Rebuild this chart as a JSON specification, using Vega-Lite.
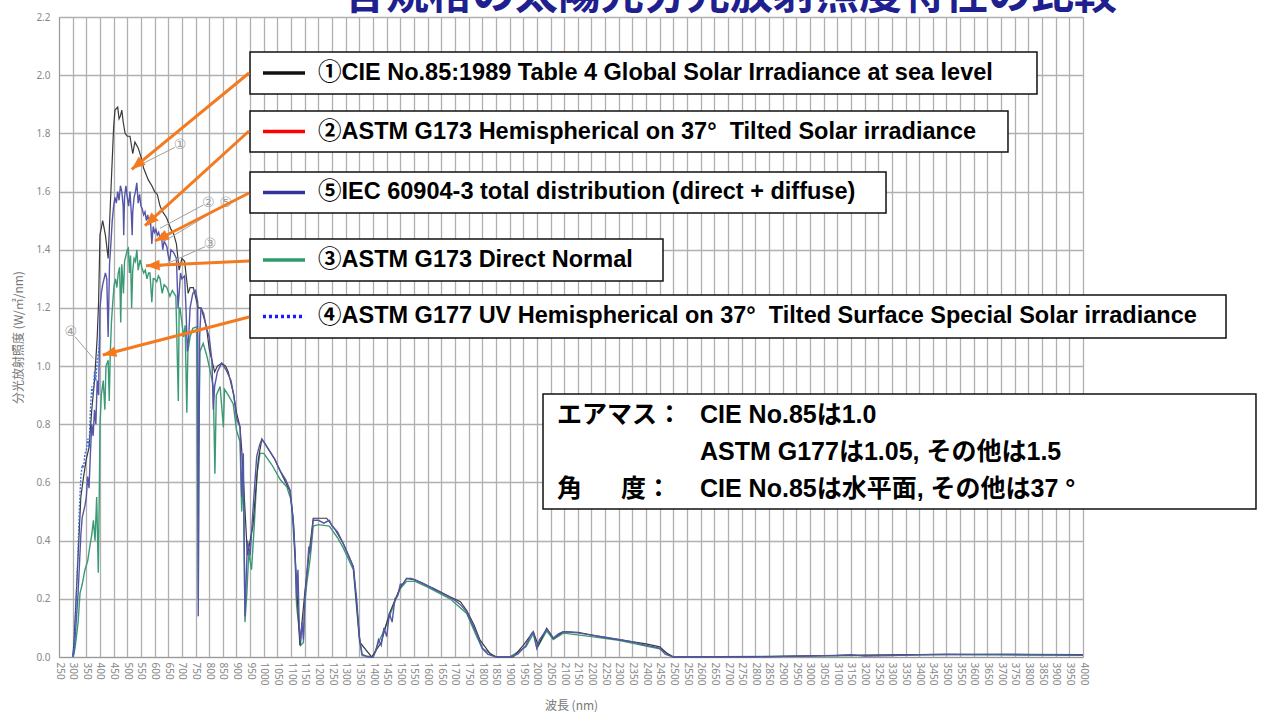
{
  "$schema": "https://vega.github.io/schema/vega-lite/v6.json",
  "width": 1024,
  "height": 640,
  "autosize": {"type": "none"},
  "padding": {"left": 59, "top": 17, "right": 181, "bottom": 67},
  "background": "white",
  "config": {
    "view": {"stroke": null},
    "axis": {
      "gridColor": "#b0b0b0",
      "gridWidth": 1.3,
      "domainColor": "#999999",
      "ticks": false,
      "labelColor": "#888888",
      "labelFont": "Noto Sans",
      "labelFontSize": 10,
      "titleColor": "#777777",
      "titleFont": "Noto Sans CJK JP",
      "titleFontWeight": "normal",
      "titleFontSize": 12
    }
  },
  "encoding": {
    "x": {
      "field": "x", "type": "quantitative", "title": "波長 (nm)",
      "scale": {"domain": [250, 4000], "nice": false, "zero": false},
      "axis": {
        "values": [250,300,350,400,450,500,550,600,650,700,750,800,850,900,950,1000,1050,1100,1150,1200,1250,1300,1350,1400,1450,1500,1550,1600,1650,1700,1750,1800,1850,1900,1950,2000,2050,2100,2150,2200,2250,2300,2350,2400,2450,2500,2550,2600,2650,2700,2750,2800,2850,2900,2950,3000,3050,3100,3150,3200,3250,3300,3350,3400,3450,3500,3550,3600,3650,3700,3750,3800,3850,3900,3950,4000],
        "format": "d",
        "labelAngle": 90,
        "labelAlign": "left",
        "labelBaseline": "middle",
        "labelPadding": 5,
        "labelOverlap": false,
        "labelBound": false,
        "titlePadding": 16
      }
    },
    "y": {
      "field": "y", "type": "quantitative", "title": "分光放射照度 (W/㎡/nm)",
      "scale": {"domain": [0, 2.2], "nice": false},
      "axis": {
        "values": [0, 0.2, 0.4, 0.6, 0.8, 1.0, 1.2, 1.4, 1.6, 1.8, 2.0, 2.2],
        "format": ".1f",
        "labelPadding": 9,
        "labelOverlap": false,
        "titlePadding": 10
      }
    }
  },
  "datasets": {
    "spec": [
      {"s": "cie", "x": 300, "y": 0}, {"s": "cie", "x": 305, "y": 0.05}, {"s": "cie", "x": 310, "y": 0.15}, {"s": "cie", "x": 320, "y": 0.35}, {"s": "cie", "x": 330, "y": 0.55}, {"s": "cie", "x": 340, "y": 0.62}, {"s": "cie", "x": 350, "y": 0.68}, {"s": "cie", "x": 360, "y": 0.72}, {"s": "cie", "x": 370, "y": 0.85}, {"s": "cie", "x": 380, "y": 0.95}, {"s": "cie", "x": 390, "y": 1.1}, {"s": "cie", "x": 395, "y": 1.22}, {"s": "cie", "x": 400, "y": 1.45}, {"s": "cie", "x": 410, "y": 1.5}, {"s": "cie", "x": 420, "y": 1.45}, {"s": "cie", "x": 430, "y": 1.37}, {"s": "cie", "x": 440, "y": 1.6}, {"s": "cie", "x": 450, "y": 1.82}, {"s": "cie", "x": 455, "y": 1.88}, {"s": "cie", "x": 465, "y": 1.89}, {"s": "cie", "x": 470, "y": 1.85}, {"s": "cie", "x": 475, "y": 1.86}, {"s": "cie", "x": 480, "y": 1.88}, {"s": "cie", "x": 485, "y": 1.84}, {"s": "cie", "x": 492, "y": 1.8}, {"s": "cie", "x": 500, "y": 1.79}, {"s": "cie", "x": 510, "y": 1.79}, {"s": "cie", "x": 520, "y": 1.73}, {"s": "cie", "x": 528, "y": 1.77}, {"s": "cie", "x": 540, "y": 1.75}, {"s": "cie", "x": 550, "y": 1.72}, {"s": "cie", "x": 560, "y": 1.68}, {"s": "cie", "x": 577, "y": 1.64}, {"s": "cie", "x": 590, "y": 1.62}, {"s": "cie", "x": 600, "y": 1.6}, {"s": "cie", "x": 610, "y": 1.59}, {"s": "cie", "x": 620, "y": 1.55}, {"s": "cie", "x": 630, "y": 1.53}, {"s": "cie", "x": 644, "y": 1.51}, {"s": "cie", "x": 660, "y": 1.47}, {"s": "cie", "x": 669, "y": 1.457}, {"s": "cie", "x": 680, "y": 1.42}, {"s": "cie", "x": 690, "y": 1.33}, {"s": "cie", "x": 700, "y": 1.37}, {"s": "cie", "x": 710, "y": 1.36}, {"s": "cie", "x": 723, "y": 1.25}, {"s": "cie", "x": 730, "y": 1.27}, {"s": "cie", "x": 742, "y": 1.27}, {"s": "cie", "x": 760, "y": 1.2}, {"s": "cie", "x": 770, "y": 1.2}, {"s": "cie", "x": 778, "y": 1.175}, {"s": "cie", "x": 790, "y": 1.135}, {"s": "cie", "x": 800, "y": 1.06}, {"s": "cie", "x": 815, "y": 1.0}, {"s": "cie", "x": 820, "y": 0.98}, {"s": "cie", "x": 830, "y": 1.0}, {"s": "cie", "x": 846, "y": 1.01}, {"s": "cie", "x": 860, "y": 1.0}, {"s": "cie", "x": 870, "y": 0.98}, {"s": "cie", "x": 890, "y": 0.9}, {"s": "cie", "x": 900, "y": 0.84}, {"s": "cie", "x": 913, "y": 0.79}, {"s": "cie", "x": 920, "y": 0.7}, {"s": "cie", "x": 940, "y": 0.35}, {"s": "cie", "x": 960, "y": 0.45}, {"s": "cie", "x": 980, "y": 0.68}, {"s": "cie", "x": 993, "y": 0.75}, {"s": "cie", "x": 1040, "y": 0.68}, {"s": "cie", "x": 1070, "y": 0.62}, {"s": "cie", "x": 1096, "y": 0.57}, {"s": "cie", "x": 1108, "y": 0.47}, {"s": "cie", "x": 1120, "y": 0.25}, {"s": "cie", "x": 1132, "y": 0.04}, {"s": "cie", "x": 1150, "y": 0.22}, {"s": "cie", "x": 1165, "y": 0.35}, {"s": "cie", "x": 1181, "y": 0.477}, {"s": "cie", "x": 1230, "y": 0.477}, {"s": "cie", "x": 1260, "y": 0.44}, {"s": "cie", "x": 1291, "y": 0.39}, {"s": "cie", "x": 1328, "y": 0.31}, {"s": "cie", "x": 1352, "y": 0.05}, {"s": "cie", "x": 1395, "y": 0.0}, {"s": "cie", "x": 1430, "y": 0.05}, {"s": "cie", "x": 1460, "y": 0.15}, {"s": "cie", "x": 1500, "y": 0.24}, {"s": "cie", "x": 1523, "y": 0.27}, {"s": "cie", "x": 1554, "y": 0.265}, {"s": "cie", "x": 1600, "y": 0.245}, {"s": "cie", "x": 1621, "y": 0.236}, {"s": "cie", "x": 1682, "y": 0.207}, {"s": "cie", "x": 1720, "y": 0.19}, {"s": "cie", "x": 1743, "y": 0.16}, {"s": "cie", "x": 1770, "y": 0.11}, {"s": "cie", "x": 1792, "y": 0.058}, {"s": "cie", "x": 1830, "y": 0.01}, {"s": "cie", "x": 1853, "y": 0.0}, {"s": "cie", "x": 1914, "y": 0.0}, {"s": "cie", "x": 1950, "y": 0.04}, {"s": "cie", "x": 1987, "y": 0.087}, {"s": "cie", "x": 2005, "y": 0.04}, {"s": "cie", "x": 2036, "y": 0.099}, {"s": "cie", "x": 2060, "y": 0.064}, {"s": "cie", "x": 2097, "y": 0.087}, {"s": "cie", "x": 2150, "y": 0.085}, {"s": "cie", "x": 2231, "y": 0.07}, {"s": "cie", "x": 2300, "y": 0.06}, {"s": "cie", "x": 2400, "y": 0.045}, {"s": "cie", "x": 2450, "y": 0.035}, {"s": "cie", "x": 2480, "y": 0.01}, {"s": "cie", "x": 2500, "y": 0.0}, {"s": "cie", "x": 2900, "y": 0.002}, {"s": "cie", "x": 3100, "y": 0.006}, {"s": "cie", "x": 3400, "y": 0.008}, {"s": "cie", "x": 3700, "y": 0.009}, {"s": "cie", "x": 4000, "y": 0.008},

      {"s": "iec", "x": 300, "y": 0}, {"s": "iec", "x": 305, "y": 0.02}, {"s": "iec", "x": 310, "y": 0.08}, {"s": "iec", "x": 315, "y": 0.15}, {"s": "iec", "x": 320, "y": 0.22}, {"s": "iec", "x": 325, "y": 0.32}, {"s": "iec", "x": 330, "y": 0.42}, {"s": "iec", "x": 335, "y": 0.48}, {"s": "iec", "x": 340, "y": 0.5}, {"s": "iec", "x": 345, "y": 0.52}, {"s": "iec", "x": 350, "y": 0.55}, {"s": "iec", "x": 355, "y": 0.62}, {"s": "iec", "x": 360, "y": 0.58}, {"s": "iec", "x": 365, "y": 0.7}, {"s": "iec", "x": 370, "y": 0.8}, {"s": "iec", "x": 375, "y": 0.76}, {"s": "iec", "x": 380, "y": 0.85}, {"s": "iec", "x": 385, "y": 0.8}, {"s": "iec", "x": 390, "y": 0.95}, {"s": "iec", "x": 395, "y": 0.9}, {"s": "iec", "x": 400, "y": 1.2}, {"s": "iec", "x": 405, "y": 1.25}, {"s": "iec", "x": 410, "y": 1.28}, {"s": "iec", "x": 415, "y": 1.3}, {"s": "iec", "x": 420, "y": 1.32}, {"s": "iec", "x": 425, "y": 1.3}, {"s": "iec", "x": 430, "y": 1.1}, {"s": "iec", "x": 435, "y": 1.35}, {"s": "iec", "x": 440, "y": 1.42}, {"s": "iec", "x": 445, "y": 1.5}, {"s": "iec", "x": 450, "y": 1.55}, {"s": "iec", "x": 455, "y": 1.58}, {"s": "iec", "x": 460, "y": 1.56}, {"s": "iec", "x": 465, "y": 1.6}, {"s": "iec", "x": 470, "y": 1.57}, {"s": "iec", "x": 475, "y": 1.62}, {"s": "iec", "x": 480, "y": 1.6}, {"s": "iec", "x": 485, "y": 1.55}, {"s": "iec", "x": 487, "y": 1.45}, {"s": "iec", "x": 490, "y": 1.58}, {"s": "iec", "x": 495, "y": 1.62}, {"s": "iec", "x": 500, "y": 1.58}, {"s": "iec", "x": 505, "y": 1.55}, {"s": "iec", "x": 510, "y": 1.6}, {"s": "iec", "x": 515, "y": 1.52}, {"s": "iec", "x": 518, "y": 1.45}, {"s": "iec", "x": 520, "y": 1.53}, {"s": "iec", "x": 525, "y": 1.58}, {"s": "iec", "x": 530, "y": 1.6}, {"s": "iec", "x": 535, "y": 1.63}, {"s": "iec", "x": 540, "y": 1.56}, {"s": "iec", "x": 545, "y": 1.59}, {"s": "iec", "x": 550, "y": 1.55}, {"s": "iec", "x": 555, "y": 1.54}, {"s": "iec", "x": 560, "y": 1.52}, {"s": "iec", "x": 565, "y": 1.53}, {"s": "iec", "x": 570, "y": 1.5}, {"s": "iec", "x": 575, "y": 1.52}, {"s": "iec", "x": 580, "y": 1.49}, {"s": "iec", "x": 585, "y": 1.5}, {"s": "iec", "x": 590, "y": 1.42}, {"s": "iec", "x": 595, "y": 1.48}, {"s": "iec", "x": 600, "y": 1.46}, {"s": "iec", "x": 605, "y": 1.47}, {"s": "iec", "x": 610, "y": 1.45}, {"s": "iec", "x": 615, "y": 1.46}, {"s": "iec", "x": 620, "y": 1.44}, {"s": "iec", "x": 625, "y": 1.45}, {"s": "iec", "x": 630, "y": 1.4}, {"s": "iec", "x": 635, "y": 1.43}, {"s": "iec", "x": 640, "y": 1.42}, {"s": "iec", "x": 645, "y": 1.41}, {"s": "iec", "x": 650, "y": 1.38}, {"s": "iec", "x": 655, "y": 1.36}, {"s": "iec", "x": 660, "y": 1.4}, {"s": "iec", "x": 670, "y": 1.39}, {"s": "iec", "x": 680, "y": 1.37}, {"s": "iec", "x": 686, "y": 1.2}, {"s": "iec", "x": 690, "y": 1.25}, {"s": "iec", "x": 695, "y": 1.32}, {"s": "iec", "x": 700, "y": 1.3}, {"s": "iec", "x": 710, "y": 1.31}, {"s": "iec", "x": 715, "y": 1.2}, {"s": "iec", "x": 720, "y": 1.05}, {"s": "iec", "x": 725, "y": 1.1}, {"s": "iec", "x": 730, "y": 1.2}, {"s": "iec", "x": 740, "y": 1.25}, {"s": "iec", "x": 750, "y": 1.26}, {"s": "iec", "x": 758, "y": 1.22}, {"s": "iec", "x": 760, "y": 0.14}, {"s": "iec", "x": 762, "y": 0.6}, {"s": "iec", "x": 765, "y": 1.1}, {"s": "iec", "x": 770, "y": 1.2}, {"s": "iec", "x": 780, "y": 1.18}, {"s": "iec", "x": 790, "y": 1.13}, {"s": "iec", "x": 800, "y": 1.1}, {"s": "iec", "x": 810, "y": 1.02}, {"s": "iec", "x": 815, "y": 0.85}, {"s": "iec", "x": 820, "y": 0.93}, {"s": "iec", "x": 830, "y": 0.98}, {"s": "iec", "x": 840, "y": 1.0}, {"s": "iec", "x": 846, "y": 1.01}, {"s": "iec", "x": 860, "y": 0.99}, {"s": "iec", "x": 870, "y": 0.97}, {"s": "iec", "x": 880, "y": 0.95}, {"s": "iec", "x": 890, "y": 0.9}, {"s": "iec", "x": 900, "y": 0.82}, {"s": "iec", "x": 913, "y": 0.79}, {"s": "iec", "x": 919, "y": 0.55}, {"s": "iec", "x": 925, "y": 0.7}, {"s": "iec", "x": 931, "y": 0.14}, {"s": "iec", "x": 935, "y": 0.25}, {"s": "iec", "x": 940, "y": 0.4}, {"s": "iec", "x": 950, "y": 0.35}, {"s": "iec", "x": 960, "y": 0.5}, {"s": "iec", "x": 974, "y": 0.69}, {"s": "iec", "x": 985, "y": 0.73}, {"s": "iec", "x": 992, "y": 0.746}, {"s": "iec", "x": 1000, "y": 0.74}, {"s": "iec", "x": 1020, "y": 0.71}, {"s": "iec", "x": 1040, "y": 0.68}, {"s": "iec", "x": 1060, "y": 0.64}, {"s": "iec", "x": 1080, "y": 0.61}, {"s": "iec", "x": 1096, "y": 0.574}, {"s": "iec", "x": 1108, "y": 0.47}, {"s": "iec", "x": 1115, "y": 0.35}, {"s": "iec", "x": 1120, "y": 0.2}, {"s": "iec", "x": 1125, "y": 0.3}, {"s": "iec", "x": 1130, "y": 0.1}, {"s": "iec", "x": 1135, "y": 0.05}, {"s": "iec", "x": 1140, "y": 0.12}, {"s": "iec", "x": 1145, "y": 0.06}, {"s": "iec", "x": 1150, "y": 0.2}, {"s": "iec", "x": 1157, "y": 0.276}, {"s": "iec", "x": 1165, "y": 0.38}, {"s": "iec", "x": 1170, "y": 0.36}, {"s": "iec", "x": 1181, "y": 0.47}, {"s": "iec", "x": 1200, "y": 0.47}, {"s": "iec", "x": 1220, "y": 0.46}, {"s": "iec", "x": 1240, "y": 0.47}, {"s": "iec", "x": 1250, "y": 0.45}, {"s": "iec", "x": 1270, "y": 0.43}, {"s": "iec", "x": 1291, "y": 0.39}, {"s": "iec", "x": 1310, "y": 0.35}, {"s": "iec", "x": 1328, "y": 0.31}, {"s": "iec", "x": 1340, "y": 0.2}, {"s": "iec", "x": 1350, "y": 0.07}, {"s": "iec", "x": 1360, "y": 0.01}, {"s": "iec", "x": 1380, "y": 0.0}, {"s": "iec", "x": 1400, "y": 0.0}, {"s": "iec", "x": 1410, "y": 0.02}, {"s": "iec", "x": 1420, "y": 0.06}, {"s": "iec", "x": 1430, "y": 0.04}, {"s": "iec", "x": 1440, "y": 0.1}, {"s": "iec", "x": 1450, "y": 0.07}, {"s": "iec", "x": 1460, "y": 0.15}, {"s": "iec", "x": 1470, "y": 0.12}, {"s": "iec", "x": 1480, "y": 0.2}, {"s": "iec", "x": 1490, "y": 0.21}, {"s": "iec", "x": 1500, "y": 0.25}, {"s": "iec", "x": 1510, "y": 0.25}, {"s": "iec", "x": 1523, "y": 0.27}, {"s": "iec", "x": 1540, "y": 0.27}, {"s": "iec", "x": 1554, "y": 0.265}, {"s": "iec", "x": 1580, "y": 0.255}, {"s": "iec", "x": 1600, "y": 0.245}, {"s": "iec", "x": 1621, "y": 0.234}, {"s": "iec", "x": 1650, "y": 0.22}, {"s": "iec", "x": 1682, "y": 0.205}, {"s": "iec", "x": 1700, "y": 0.195}, {"s": "iec", "x": 1720, "y": 0.18}, {"s": "iec", "x": 1743, "y": 0.155}, {"s": "iec", "x": 1760, "y": 0.12}, {"s": "iec", "x": 1780, "y": 0.08}, {"s": "iec", "x": 1800, "y": 0.03}, {"s": "iec", "x": 1820, "y": 0.01}, {"s": "iec", "x": 1850, "y": 0.0}, {"s": "iec", "x": 1900, "y": 0.0}, {"s": "iec", "x": 1930, "y": 0.01}, {"s": "iec", "x": 1960, "y": 0.04}, {"s": "iec", "x": 1980, "y": 0.08}, {"s": "iec", "x": 1987, "y": 0.087}, {"s": "iec", "x": 2000, "y": 0.03}, {"s": "iec", "x": 2010, "y": 0.06}, {"s": "iec", "x": 2036, "y": 0.095}, {"s": "iec", "x": 2050, "y": 0.08}, {"s": "iec", "x": 2060, "y": 0.065}, {"s": "iec", "x": 2080, "y": 0.08}, {"s": "iec", "x": 2097, "y": 0.087}, {"s": "iec", "x": 2150, "y": 0.083}, {"s": "iec", "x": 2200, "y": 0.075}, {"s": "iec", "x": 2250, "y": 0.068}, {"s": "iec", "x": 2300, "y": 0.06}, {"s": "iec", "x": 2350, "y": 0.052}, {"s": "iec", "x": 2400, "y": 0.04}, {"s": "iec", "x": 2430, "y": 0.035}, {"s": "iec", "x": 2450, "y": 0.03}, {"s": "iec", "x": 2470, "y": 0.01}, {"s": "iec", "x": 2500, "y": 0.0}, {"s": "iec", "x": 2800, "y": 0.0}, {"s": "iec", "x": 2900, "y": 0.002}, {"s": "iec", "x": 3000, "y": 0.004}, {"s": "iec", "x": 3100, "y": 0.005}, {"s": "iec", "x": 3150, "y": 0.008}, {"s": "iec", "x": 3200, "y": 0.003}, {"s": "iec", "x": 3300, "y": 0.005}, {"s": "iec", "x": 3400, "y": 0.008}, {"s": "iec", "x": 3500, "y": 0.01}, {"s": "iec", "x": 3600, "y": 0.009}, {"s": "iec", "x": 3700, "y": 0.009}, {"s": "iec", "x": 3800, "y": 0.008}, {"s": "iec", "x": 3900, "y": 0.008}, {"s": "iec", "x": 4000, "y": 0.007},

      {"s": "dn", "x": 300, "y": 0}, {"s": "dn", "x": 305, "y": 0.01}, {"s": "dn", "x": 310, "y": 0.04}, {"s": "dn", "x": 320, "y": 0.12}, {"s": "dn", "x": 327, "y": 0.22}, {"s": "dn", "x": 335, "y": 0.25}, {"s": "dn", "x": 345, "y": 0.3}, {"s": "dn", "x": 355, "y": 0.33}, {"s": "dn", "x": 363, "y": 0.38}, {"s": "dn", "x": 370, "y": 0.42}, {"s": "dn", "x": 376, "y": 0.47}, {"s": "dn", "x": 382, "y": 0.4}, {"s": "dn", "x": 388, "y": 0.55}, {"s": "dn", "x": 394, "y": 0.29}, {"s": "dn", "x": 398, "y": 0.6}, {"s": "dn", "x": 400, "y": 0.8}, {"s": "dn", "x": 405, "y": 0.9}, {"s": "dn", "x": 412, "y": 0.95}, {"s": "dn", "x": 418, "y": 0.85}, {"s": "dn", "x": 422, "y": 1.0}, {"s": "dn", "x": 430, "y": 1.02}, {"s": "dn", "x": 434, "y": 0.88}, {"s": "dn", "x": 438, "y": 1.05}, {"s": "dn", "x": 442, "y": 1.15}, {"s": "dn", "x": 447, "y": 1.22}, {"s": "dn", "x": 452, "y": 1.28}, {"s": "dn", "x": 457, "y": 1.3}, {"s": "dn", "x": 462, "y": 1.27}, {"s": "dn", "x": 467, "y": 1.32}, {"s": "dn", "x": 472, "y": 1.34}, {"s": "dn", "x": 476, "y": 1.15}, {"s": "dn", "x": 480, "y": 1.35}, {"s": "dn", "x": 486, "y": 1.25}, {"s": "dn", "x": 490, "y": 1.36}, {"s": "dn", "x": 495, "y": 1.38}, {"s": "dn", "x": 500, "y": 1.4}, {"s": "dn", "x": 504, "y": 1.405}, {"s": "dn", "x": 508, "y": 1.32}, {"s": "dn", "x": 512, "y": 1.38}, {"s": "dn", "x": 516, "y": 1.2}, {"s": "dn", "x": 520, "y": 1.33}, {"s": "dn", "x": 525, "y": 1.37}, {"s": "dn", "x": 530, "y": 1.36}, {"s": "dn", "x": 535, "y": 1.4}, {"s": "dn", "x": 540, "y": 1.33}, {"s": "dn", "x": 547, "y": 1.365}, {"s": "dn", "x": 553, "y": 1.34}, {"s": "dn", "x": 560, "y": 1.32}, {"s": "dn", "x": 566, "y": 1.33}, {"s": "dn", "x": 572, "y": 1.3}, {"s": "dn", "x": 578, "y": 1.32}, {"s": "dn", "x": 583, "y": 1.32}, {"s": "dn", "x": 590, "y": 1.22}, {"s": "dn", "x": 595, "y": 1.3}, {"s": "dn", "x": 600, "y": 1.3}, {"s": "dn", "x": 608, "y": 1.29}, {"s": "dn", "x": 614, "y": 1.31}, {"s": "dn", "x": 620, "y": 1.3}, {"s": "dn", "x": 628, "y": 1.25}, {"s": "dn", "x": 635, "y": 1.28}, {"s": "dn", "x": 645, "y": 1.27}, {"s": "dn", "x": 656, "y": 1.24}, {"s": "dn", "x": 665, "y": 1.26}, {"s": "dn", "x": 678, "y": 1.24}, {"s": "dn", "x": 687, "y": 0.88}, {"s": "dn", "x": 690, "y": 1.2}, {"s": "dn", "x": 693, "y": 1.2}, {"s": "dn", "x": 700, "y": 1.15}, {"s": "dn", "x": 706, "y": 1.1}, {"s": "dn", "x": 712, "y": 1.14}, {"s": "dn", "x": 718, "y": 0.84}, {"s": "dn", "x": 722, "y": 1.05}, {"s": "dn", "x": 730, "y": 1.1}, {"s": "dn", "x": 740, "y": 1.13}, {"s": "dn", "x": 754, "y": 1.135}, {"s": "dn", "x": 760, "y": 0.2}, {"s": "dn", "x": 762, "y": 0.7}, {"s": "dn", "x": 766, "y": 1.05}, {"s": "dn", "x": 778, "y": 1.078}, {"s": "dn", "x": 790, "y": 1.04}, {"s": "dn", "x": 803, "y": 0.987}, {"s": "dn", "x": 815, "y": 0.93}, {"s": "dn", "x": 821, "y": 0.63}, {"s": "dn", "x": 826, "y": 0.9}, {"s": "dn", "x": 840, "y": 0.93}, {"s": "dn", "x": 852, "y": 0.79}, {"s": "dn", "x": 856, "y": 0.92}, {"s": "dn", "x": 870, "y": 0.9}, {"s": "dn", "x": 888, "y": 0.87}, {"s": "dn", "x": 900, "y": 0.78}, {"s": "dn", "x": 913, "y": 0.74}, {"s": "dn", "x": 919, "y": 0.5}, {"s": "dn", "x": 925, "y": 0.62}, {"s": "dn", "x": 931, "y": 0.12}, {"s": "dn", "x": 938, "y": 0.22}, {"s": "dn", "x": 945, "y": 0.36}, {"s": "dn", "x": 955, "y": 0.3}, {"s": "dn", "x": 965, "y": 0.45}, {"s": "dn", "x": 975, "y": 0.63}, {"s": "dn", "x": 986, "y": 0.7}, {"s": "dn", "x": 1000, "y": 0.7}, {"s": "dn", "x": 1030, "y": 0.66}, {"s": "dn", "x": 1060, "y": 0.61}, {"s": "dn", "x": 1084, "y": 0.585}, {"s": "dn", "x": 1100, "y": 0.54}, {"s": "dn", "x": 1108, "y": 0.44}, {"s": "dn", "x": 1115, "y": 0.33}, {"s": "dn", "x": 1120, "y": 0.18}, {"s": "dn", "x": 1130, "y": 0.09}, {"s": "dn", "x": 1135, "y": 0.04}, {"s": "dn", "x": 1145, "y": 0.05}, {"s": "dn", "x": 1150, "y": 0.18}, {"s": "dn", "x": 1157, "y": 0.25}, {"s": "dn", "x": 1170, "y": 0.34}, {"s": "dn", "x": 1181, "y": 0.45}, {"s": "dn", "x": 1200, "y": 0.455}, {"s": "dn", "x": 1240, "y": 0.45}, {"s": "dn", "x": 1270, "y": 0.41}, {"s": "dn", "x": 1291, "y": 0.375}, {"s": "dn", "x": 1328, "y": 0.3}, {"s": "dn", "x": 1350, "y": 0.06}, {"s": "dn", "x": 1360, "y": 0.005}, {"s": "dn", "x": 1400, "y": 0.0}, {"s": "dn", "x": 1420, "y": 0.05}, {"s": "dn", "x": 1440, "y": 0.09}, {"s": "dn", "x": 1460, "y": 0.14}, {"s": "dn", "x": 1480, "y": 0.19}, {"s": "dn", "x": 1500, "y": 0.235}, {"s": "dn", "x": 1523, "y": 0.26}, {"s": "dn", "x": 1554, "y": 0.26}, {"s": "dn", "x": 1600, "y": 0.24}, {"s": "dn", "x": 1682, "y": 0.2}, {"s": "dn", "x": 1743, "y": 0.15}, {"s": "dn", "x": 1780, "y": 0.07}, {"s": "dn", "x": 1800, "y": 0.03}, {"s": "dn", "x": 1850, "y": 0.0}, {"s": "dn", "x": 1900, "y": 0.0}, {"s": "dn", "x": 1960, "y": 0.035}, {"s": "dn", "x": 1987, "y": 0.08}, {"s": "dn", "x": 2000, "y": 0.03}, {"s": "dn", "x": 2036, "y": 0.09}, {"s": "dn", "x": 2060, "y": 0.06}, {"s": "dn", "x": 2097, "y": 0.082}, {"s": "dn", "x": 2200, "y": 0.07}, {"s": "dn", "x": 2300, "y": 0.057}, {"s": "dn", "x": 2400, "y": 0.038}, {"s": "dn", "x": 2450, "y": 0.028}, {"s": "dn", "x": 2500, "y": 0.0}, {"s": "dn", "x": 3000, "y": 0.003}, {"s": "dn", "x": 3500, "y": 0.008}, {"s": "dn", "x": 4000, "y": 0.006},

      {"s": "uv", "x": 300, "y": 0}, {"s": "uv", "x": 305, "y": 0.03}, {"s": "uv", "x": 310, "y": 0.12}, {"s": "uv", "x": 315, "y": 0.25}, {"s": "uv", "x": 320, "y": 0.38}, {"s": "uv", "x": 325, "y": 0.52}, {"s": "uv", "x": 330, "y": 0.62}, {"s": "uv", "x": 335, "y": 0.66}, {"s": "uv", "x": 340, "y": 0.65}, {"s": "uv", "x": 345, "y": 0.7}, {"s": "uv", "x": 350, "y": 0.71}, {"s": "uv", "x": 355, "y": 0.75}, {"s": "uv", "x": 360, "y": 0.72}, {"s": "uv", "x": 365, "y": 0.85}, {"s": "uv", "x": 370, "y": 0.93}, {"s": "uv", "x": 375, "y": 0.9}, {"s": "uv", "x": 380, "y": 0.98}, {"s": "uv", "x": 385, "y": 0.95}, {"s": "uv", "x": 390, "y": 1.02}, {"s": "uv", "x": 395, "y": 1.05}, {"s": "uv", "x": 400, "y": 1.1}
    ],
    "heading": [
      {"x": 2707, "y": 2.2275, "t": "各規格の太陽光分光放射照度特性の比較"}
    ],
    "boxes": [
      {"x": 949.5, "x2": 3831.5, "y": 2.0797, "y2": 1.9353},
      {"x": 949.5, "x2": 3725.3, "y": 1.8769, "y2": 1.7359},
      {"x": 949.5, "x2": 3278.6, "y": 1.6672, "y2": 1.5263},
      {"x": 949.5, "x2": 2461.9, "y": 1.4369, "y2": 1.2925},
      {"x": 949.5, "x2": 4523.7, "y": 1.2444, "y2": 1.0966},
      {"x": 2022.5, "x2": 4633.5, "y": 0.9041, "y2": 0.5088}
    ],
    "samples": [
      {"s": "cie", "x": 997, "x2": 1151, "y": 2.0075},
      {"s": "g173", "x": 997, "x2": 1151, "y": 1.8064},
      {"s": "iec", "x": 997, "x2": 1151, "y": 1.5968},
      {"s": "dn", "x": 997, "x2": 1151, "y": 1.3647},
      {"s": "uv", "x": 997, "x2": 1151, "y": 1.1705}
    ],
    "labels": [
      {"x": 1198.5, "y": 2.0075, "t": "①CIE No.85:1989 Table 4 Global Solar Irradiance at sea level"},
      {"x": 1198.5, "y": 1.8064, "t": "②ASTM G173 Hemispherical on 37° \u00a0Tilted Solar irradiance"},
      {"x": 1198.5, "y": 1.5968, "t": "⑤IEC 60904-3 total distribution (direct + diffuse)"},
      {"x": 1198.5, "y": 1.3647, "t": "③ASTM G173 Direct Normal"},
      {"x": 1198.5, "y": 1.1705, "t": "④ASTM G177 UV Hemispherical on 37° \u00a0Tilted Surface Special Solar irradiance"}
    ],
    "info": [
      {"x": 2073.7, "y": 0.8319, "t": "エアマス："},
      {"x": 2597.4, "y": 0.8319, "t": "CIE No.85は1.0"},
      {"x": 2597.4, "y": 0.7047, "t": "ASTM G177は1.05, その他は1.5"},
      {"x": 2073.7, "y": 0.5775, "t": "角\u3000\u00a0\u00a0度："},
      {"x": 2597.4, "y": 0.5775, "t": "CIE No.85は水平面, その他は37 °"}
    ],
    "arrows": [
      {"x": 516.2, "y": 1.6765, "x2": 946, "y2": 2.0075},
      {"x": 564.9, "y": 1.4826, "x2": 946, "y2": 1.8081},
      {"x": 601.6, "y": 1.43, "x2": 946, "y2": 1.595},
      {"x": 568.6, "y": 1.3451, "x2": 946, "y2": 1.3613},
      {"x": 410, "y": 1.0381, "x2": 946, "y2": 1.1688}
    ],
    "leaders": [
      {"x": 674.8, "y": 1.7521, "x2": 558.7, "y2": 1.6971},
      {"x": 778.4, "y": 1.5538, "x2": 619.9, "y2": 1.4737},
      {"x": 845.8, "y": 1.5479, "x2": 632, "y2": 1.4276},
      {"x": 784.7, "y": 1.4104, "x2": 607.8, "y2": 1.3362},
      {"x": 308.6, "y": 1.101, "x2": 375.6, "y2": 1.0268}
    ],
    "circled": [
      {"x": 693.1, "y": 1.76, "t": "①"},
      {"x": 796.7, "y": 1.5617, "t": "②"},
      {"x": 860.5, "y": 1.5617, "t": "⑤"},
      {"x": 803, "y": 1.4187, "t": "③"},
      {"x": 292.8, "y": 1.1182, "t": "④"}
    ]
  },
  "layer": [
    {
      "data": {"name": "spec"},
      "transform": [{"filter": "datum.s === 'dn'"}],
      "mark": {"type": "line", "strokeWidth": 1.4, "color": "#3a9a74"}
    },
    {
      "data": {"name": "spec"},
      "transform": [{"filter": "datum.s === 'cie'"}],
      "mark": {"type": "line", "strokeWidth": 1.2, "color": "#3a3a3a"}
    },
    {
      "data": {"name": "spec"},
      "transform": [{"filter": "datum.s === 'iec'"}],
      "mark": {"type": "line", "strokeWidth": 1.4, "color": "#5656a8"}
    },
    {
      "data": {"name": "spec"},
      "transform": [{"filter": "datum.s === 'uv'"}],
      "mark": {"type": "line", "strokeWidth": 1.4, "color": "#3f6fd8", "strokeDash": [2, 1.5]}
    },
    {
      "data": {"name": "heading"},
      "mark": {"type": "text", "align": "center", "baseline": "alphabetic", "font": "Noto Sans CJK JP", "fontSize": 43, "fontWeight": "bold", "color": "#1f1f8f"},
      "encoding": {"text": {"field": "t"}}
    },
    {
      "data": {"name": "leaders"},
      "mark": {"type": "rule", "color": "#a0a0a0", "strokeWidth": 1},
      "encoding": {"x2": {"field": "x2"}, "y2": {"field": "y2"}}
    },
    {
      "data": {"name": "circled"},
      "mark": {"type": "text", "color": "#a0a0a0", "fontSize": 14, "font": "DejaVu Sans", "align": "center", "baseline": "middle"},
      "encoding": {"text": {"field": "t"}}
    },
    {
      "data": {"name": "boxes"},
      "mark": {"type": "rect", "fill": "white", "stroke": "#111111", "strokeWidth": 1.5},
      "encoding": {"x2": {"field": "x2"}, "y2": {"field": "y2"}}
    },
    {
      "data": {"name": "samples"},
      "mark": {"type": "rule", "strokeWidth": 3.5},
      "encoding": {
        "x2": {"field": "x2"},
        "color": {
          "field": "s", "type": "nominal", "legend": null,
          "scale": {"domain": ["cie", "g173", "iec", "dn", "uv"], "range": ["#111111", "#ff0000", "#333399", "#2e9a6a", "#1a1aff"]}
        },
        "strokeDash": {
          "field": "s", "type": "nominal", "legend": null,
          "scale": {"domain": ["cie", "g173", "iec", "dn", "uv"], "range": [[1, 0], [1, 0], [1, 0], [1, 0], [3, 3]]}
        }
      }
    },
    {
      "data": {"name": "labels"},
      "mark": {"type": "text", "align": "left", "baseline": "middle", "font": "Liberation Sans, Noto Sans CJK JP", "fontSize": 23.5, "fontWeight": "bold", "color": "#000000"},
      "encoding": {"text": {"field": "t"}}
    },
    {
      "data": {"name": "info"},
      "mark": {"type": "text", "align": "left", "baseline": "middle", "font": "Liberation Sans, Noto Sans CJK JP", "fontSize": 25, "fontWeight": "bold", "color": "#000000"},
      "encoding": {"text": {"field": "t"}}
    },
    {
      "data": {"name": "arrows"},
      "mark": {"type": "rule", "color": "#f47a20", "strokeWidth": 3},
      "encoding": {"x2": {"field": "x2"}, "y2": {"field": "y2"}}
    },
    {
      "data": {"name": "arrows"},
      "transform": [
        {"calculate": "(datum.x - datum.x2) / 3.6621", "as": "dxp"},
        {"calculate": "-(datum.y - datum.y2) / 0.0034375", "as": "dyp"},
        {"calculate": "atan2(datum.dxp, -datum.dyp) * 180 / PI", "as": "ang"}
      ],
      "mark": {"type": "point", "shape": "M0,0L0.55,1.4L-0.55,1.4Z", "filled": true, "color": "#f47a20", "opacity": 1, "size": 380},
      "encoding": {
        "angle": {"field": "ang", "type": "quantitative", "scale": null}
      }
    }
  ]
}
